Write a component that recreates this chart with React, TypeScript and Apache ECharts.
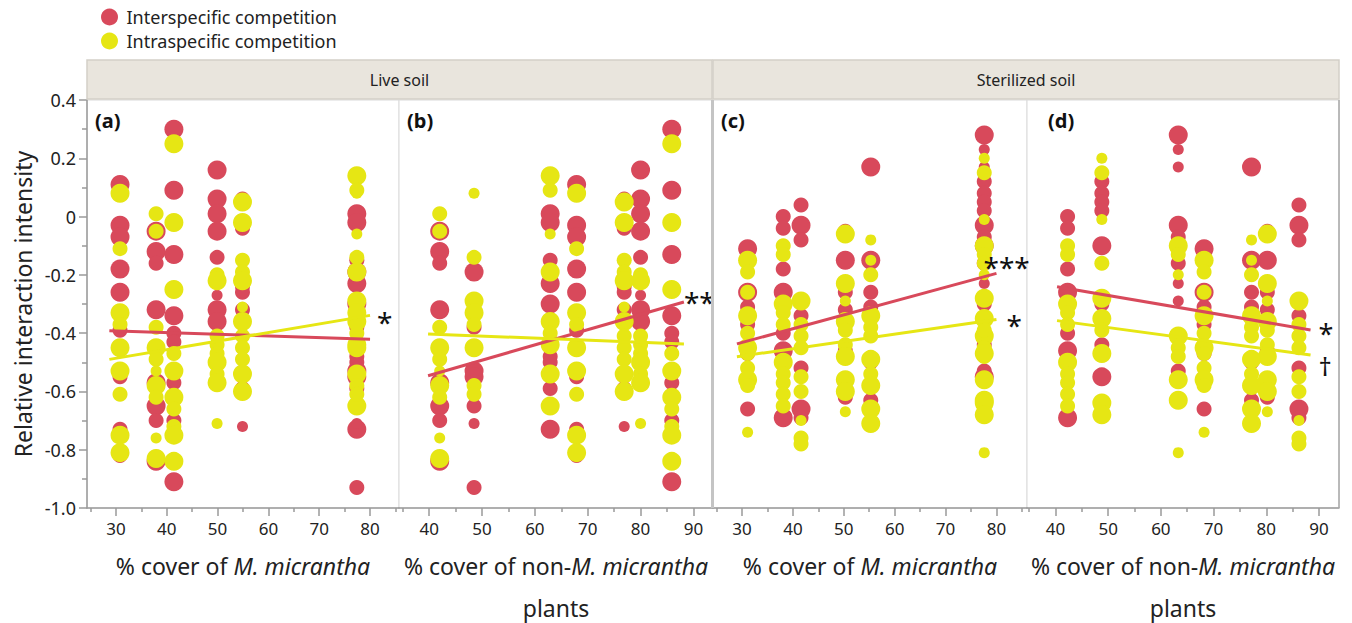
import React, { useEffect, useRef } from "react";
import * as echarts from "echarts";

// ---------- DATA ----------
const legendNames = ["Interspecific competition", "Intraspecific competition"];
const soilLabels = ["Live soil", "Sterilized soil"];
const panelLabels = ["(a)", "(b)", "(c)", "(d)"];
const yTickLabels = [0.4, 0.2, 0, -0.2, -0.4, -0.6, -0.8, -1.0];
const xTicksM = [30, 40, 50, 60, 70, 80];
const xTicksNonM = [40, 50, 60, 70, 80, 90];
const xMinorTicks = [25, 35, 45, 55, 65, 75, 85];
const xTitleM = "{t|% cover of }{i|M. micrantha}";
const xTitleNonM = "{t|% cover of non-}{i|M. micrantha}\n{t|plants}";
const yTitle = "Relative interaction intensity";

// plot groups: % cover of M. micrantha and % cover of non-M. micrantha plants
const liveMCover = [30.8, 37.9, 41.4, 49.9, 54.9, 77.4, 77.4];
const liveNonMCover = [67.9, 42.0, 85.9, 80.0, 76.9, 62.9, 48.5];
const sterMCover = [31.1, 38.1, 41.6, 50.3, 55.3, 77.6, 77.6];
const sterNonMCover = [68.2, 42.3, 86.2, 80.2, 77.2, 63.3, 48.8];

// [RII, weight class 1..3] per plot group
const liveInter = [
  [[0.11, 3], [-0.03, 3], [-0.07, 3], [-0.18, 3], [-0.26, 3], [-0.39, 2], [-0.55, 2], [-0.73, 2], [-0.82, 2]],
  [[-0.05, 3], [-0.12, 3], [-0.16, 2], [-0.32, 3], [-0.57, 3], [-0.65, 3], [-0.70, 2], [-0.84, 3]],
  [[0.30, 3], [0.09, 3], [-0.13, 3], [-0.34, 3], [-0.40, 2], [-0.43, 2], [-0.57, 2], [-0.70, 2], [-0.91, 3]],
  [[0.16, 3], [0.06, 3], [0.01, 3], [-0.05, 3], [-0.14, 2], [-0.27, 1], [-0.32, 3], [-0.36, 3]],
  [[0.06, 2], [-0.04, 2], [-0.24, 2], [-0.26, 2], [-0.32, 2], [-0.59, 2], [-0.72, 1]],
  [[0.01, 3], [-0.02, 3], [-0.15, 2], [-0.23, 3], [-0.30, 3], [-0.48, 2], [-0.50, 2], [-0.59, 2], [-0.73, 3]],
  [[-0.19, 3], [-0.38, 2], [-0.53, 3], [-0.55, 3], [-0.65, 2], [-0.71, 1], [-0.93, 2]],
];
const liveIntra = [
  [[0.08, 3], [-0.11, 2], [-0.33, 3], [-0.37, 2], [-0.45, 3], [-0.53, 3], [-0.61, 2], [-0.75, 3], [-0.81, 3]],
  [[0.01, 2], [-0.05, 2], [-0.38, 2], [-0.45, 3], [-0.49, 2], [-0.53, 1], [-0.58, 3], [-0.62, 2], [-0.76, 1], [-0.83, 3]],
  [[0.25, 3], [-0.02, 3], [-0.25, 3], [-0.47, 2], [-0.53, 3], [-0.62, 3], [-0.66, 2], [-0.72, 2], [-0.75, 3], [-0.84, 3]],
  [[-0.20, 2], [-0.22, 3], [-0.41, 2], [-0.44, 2], [-0.47, 2], [-0.50, 3], [-0.54, 2], [-0.57, 3], [-0.71, 1]],
  [[0.05, 3], [-0.02, 3], [-0.15, 2], [-0.19, 2], [-0.22, 3], [-0.31, 1], [-0.36, 3], [-0.41, 2], [-0.45, 2], [-0.49, 2], [-0.54, 3], [-0.60, 3]],
  [[0.14, 3], [0.09, 2], [-0.06, 1], [-0.19, 3], [-0.36, 3], [-0.40, 2], [-0.44, 3], [-0.54, 3], [-0.65, 3]],
  [[0.08, 1], [-0.14, 2], [-0.29, 3], [-0.33, 3], [-0.37, 2], [-0.45, 3], [-0.58, 2], [-0.61, 2]],
];
const sterInter = [
  [[-0.11, 3], [-0.14, 2], [-0.26, 3], [-0.31, 2], [-0.37, 2], [-0.47, 2], [-0.66, 2]],
  [[0.00, 2], [-0.04, 2], [-0.18, 2], [-0.26, 3], [-0.40, 2], [-0.46, 3], [-0.69, 3]],
  [[0.04, 2], [-0.03, 3], [-0.08, 2], [-0.34, 2], [-0.52, 2], [-0.66, 3], [-0.69, 2]],
  [[-0.05, 2], [-0.15, 3], [-0.26, 2], [-0.32, 2], [-0.46, 2], [-0.62, 2]],
  [[0.17, 3], [-0.15, 3], [-0.26, 2], [-0.31, 2], [-0.50, 2], [-0.63, 2]],
  [[0.28, 3], [0.23, 1], [0.17, 1], [-0.03, 3], [-0.07, 2], [-0.16, 2], [-0.23, 1], [-0.29, 1], [-0.53, 2]],
  [[0.12, 2], [0.08, 2], [0.05, 2], [0.02, 2], [-0.10, 3], [-0.30, 2], [-0.44, 2], [-0.55, 3]],
];
const sterIntra = [
  [[-0.15, 3], [-0.19, 2], [-0.26, 2], [-0.34, 3], [-0.40, 2], [-0.45, 3], [-0.47, 2], [-0.52, 2], [-0.56, 3], [-0.58, 2], [-0.74, 1]],
  [[-0.10, 2], [-0.13, 2], [-0.30, 3], [-0.33, 2], [-0.37, 2], [-0.50, 3], [-0.54, 2], [-0.57, 2], [-0.61, 2], [-0.65, 2]],
  [[-0.29, 3], [-0.37, 2], [-0.41, 2], [-0.45, 2], [-0.55, 2], [-0.60, 2], [-0.70, 1], [-0.76, 2], [-0.78, 2]],
  [[-0.06, 3], [-0.23, 3], [-0.29, 1], [-0.36, 3], [-0.39, 2], [-0.44, 2], [-0.48, 3], [-0.56, 3], [-0.60, 3], [-0.67, 1]],
  [[-0.08, 1], [-0.15, 1], [-0.20, 2], [-0.34, 3], [-0.38, 2], [-0.41, 2], [-0.49, 3], [-0.54, 2], [-0.58, 3], [-0.66, 3], [-0.71, 3]],
  [[-0.10, 3], [-0.13, 2], [-0.20, 1], [-0.41, 3], [-0.45, 2], [-0.48, 2], [-0.56, 3], [-0.63, 3], [-0.81, 1]],
  [[0.20, 1], [0.15, 2], [-0.01, 1], [-0.16, 2], [-0.28, 3], [-0.35, 3], [-0.39, 2], [-0.47, 3], [-0.64, 3], [-0.68, 3]],
];

// fitted regression lines [x, RII] end points
const fitAInter = [[28.7, -0.392], [80, -0.421]];
const fitAIntra = [[28.7, -0.49], [80, -0.339]];
const fitBInter = [[39.8, -0.546], [88.2, -0.293]];
const fitBIntra = [[39.8, -0.403], [88.2, -0.437]];
const fitCInter = [[29.0, -0.437], [80, -0.195]];
const fitCIntra = [[29.0, -0.481], [80, -0.353]];
const fitDInter = [[40.3, -0.241], [88.4, -0.389]];
const fitDIntra = [[40.3, -0.357], [88.4, -0.475]];

// significance marks [inter, intra]
const sigA = ["", "*"];
const sigB = ["**", ""];
const sigC = ["***", "*"];
const sigD = ["*", "†"];

// ---------- STYLE / LAYOUT ----------
const RED = "#d8495b";
const YELLOW = "#e6e614";
const FONT = "'Noto Sans', 'Open Sans', sans-serif";
const SIZE_BY_CLASS: Record<number, number> = { 1: 11, 2: 15, 3: 19 };
const GRID_LEFT = [87, 399, 713, 1027];
const GRID_WIDTH = [312, 314, 314, 312];
const GRID_TOP = 100;
const GRID_HEIGHT = 408;

// stackSig: the two marks sit stacked at the end of the first line
const panels = [
  { xs: liveMCover, inter: liveInter, intra: liveIntra, range: [24.3, 85.7], ticks: xTicksM, title: xTitleM, fit: [fitAInter, fitAIntra], sig: sigA,
    sigOffset: [[8, 8], [7, 7]], stackSig: false },
  { xs: liveNonMCover, inter: liveInter, intra: liveIntra, range: [34.3, 93.7], ticks: xTicksNonM, title: xTitleNonM, fit: [fitBInter, fitBIntra], sig: sigB,
    sigOffset: [[0, 0], [0, 0]], stackSig: false },
  { xs: sterMCover, inter: sterInter, intra: sterIntra, range: [24.3, 86.0], ticks: xTicksM, title: xTitleM, fit: [fitCInter, fitCIntra], sig: sigC,
    sigOffset: [[-13, -6], [10, 6]], stackSig: false },
  { xs: sterNonMCover, inter: sterInter, intra: sterIntra, range: [34.6, 93.8], ticks: xTicksNonM, title: xTitleNonM, fit: [fitDInter, fitDIntra], sig: sigD,
    sigOffset: [[8, 20], [0, 0]], stackSig: true },
];

function toPoints(xs: number[], groups: number[][][]) {
  const out: number[][] = [];
  groups.forEach((g, gi) => g.forEach(([y, w]) => out.push([xs[gi], y, w])));
  return out;
}

function buildOption() {
  const grids: any[] = [];
  const xAxes: any[] = [];
  const yAxes: any[] = [];
  const series: any[] = [];
  const axisGray = "#9a9a9a";

  panels.forEach((p, i) => {
    grids.push({
      left: GRID_LEFT[i], top: GRID_TOP, width: GRID_WIDTH[i], height: GRID_HEIGHT,
      outerBoundsMode: "none", containLabel: false,
      show: true, backgroundColor: "#ffffff", borderColor: "#dadada", borderWidth: 1,
    });
    xAxes.push({
      type: "value", gridIndex: i, min: p.range[0], max: p.range[1], position: "bottom",
      axisLine: { show: true, onZero: false, lineStyle: { color: axisGray, width: 1.5 } },
      axisTick: { show: true, customValues: p.ticks, length: 8, lineStyle: { color: axisGray, width: 1.5 } },
      axisLabel: { show: true, customValues: p.ticks, fontSize: 17, color: "#222", margin: 12, fontFamily: FONT },
      splitLine: { show: false },
      name: p.title, nameLocation: "middle", nameGap: 37,
      nameTextStyle: {
        fontSize: 23, color: "#222", fontFamily: FONT, lineHeight: 42,
        rich: {
          t: { fontSize: 23, color: "#222", fontFamily: FONT, lineHeight: 42 },
          i: { fontStyle: "italic", fontSize: 23, color: "#222", fontFamily: FONT, lineHeight: 42 },
        },
      },
    });
    xAxes.push({
      type: "value", gridIndex: i, min: p.range[0], max: p.range[1], position: "bottom",
      axisLine: { show: false, onZero: false },
      axisTick: { show: true, customValues: xMinorTicks.filter((v) => v > p.range[0] && v < p.range[1]), length: 4, lineStyle: { color: axisGray, width: 1.5 } },
      axisLabel: { show: false },
      splitLine: { show: false },
    });
    yAxes.push({
      type: "value", gridIndex: i, min: -1.0, max: 0.4, interval: 0.2,
      show: i === 0,
      axisLine: { show: true, onZero: false, lineStyle: { color: axisGray, width: 1.5 } },
      axisTick: { show: true, length: 8, lineStyle: { color: axisGray, width: 1.5 } },
      minorTick: { show: true, splitNumber: 2, length: 5, lineStyle: { color: axisGray, width: 1.5 } },
      splitLine: { show: false },
      minorSplitLine: { show: false },
      axisLabel: {
        fontSize: 18, color: "#222", margin: 11, fontFamily: FONT,
        formatter: (v: number) => {
          const hit = yTickLabels.find((t) => Math.abs(t - v) < 1e-6);
          if (hit === undefined) return "";
          return Math.abs(hit) < 1e-9 ? "0" : hit.toFixed(1);
        },
      },
      name: i === 0 ? yTitle : "", nameLocation: "middle", nameGap: 53,
      nameTextStyle: { fontSize: 23, color: "#222", fontFamily: FONT },
    });

    const xi = i * 2;
    series.push({
      type: "scatter", name: legendNames[0], xAxisIndex: xi, yAxisIndex: i, z: 2,
      data: toPoints(p.xs, p.inter),
      symbolSize: (v: number[]) => SIZE_BY_CLASS[v[2]],
      itemStyle: { color: RED, opacity: 1 },
    });
    series.push({
      type: "scatter", name: legendNames[1], xAxisIndex: xi, yAxisIndex: i, z: 3,
      data: toPoints(p.xs, p.intra),
      symbolSize: (v: number[]) => SIZE_BY_CLASS[v[2]],
      itemStyle: { color: YELLOW, opacity: 1 },
    });
    [RED, YELLOW].forEach((c, k) => {
      let text = p.sig[k];
      if (p.stackSig) text = k === 0 ? "{s|" + p.sig[0] + "}\n{d|" + p.sig[1] + "}" : "";
      series.push({
        type: "line", name: "fit" + i + "_" + k, xAxisIndex: xi, yAxisIndex: i, z: 5,
        data: p.fit[k], showSymbol: false, symbol: "none", silent: true,
        lineStyle: { color: c, width: 3 },
        endLabel: {
          show: text !== "", formatter: () => text, distance: 0,
          offset: p.sigOffset[k], fontSize: 28, lineHeight: 20, color: "#111", fontFamily: FONT,
          rich: {
            s: { fontSize: 27, lineHeight: 32, color: "#111", fontFamily: FONT },
            d: { fontSize: 26, lineHeight: 32, color: "#111", fontFamily: FONT },
          },
        },
      });
    });
  });

  const graphics: any[] = [];
  const stripSpans = [
    [GRID_LEFT[0], GRID_LEFT[2] - 1],
    [GRID_LEFT[2], GRID_LEFT[3] + GRID_WIDTH[3]],
  ];
  stripSpans.forEach(([x0, x1], k) => {
    graphics.push({
      type: "rect", shape: { x: x0, y: 60, width: x1 - x0, height: 39 },
      style: { fill: "#e9e5dd", stroke: "#d3cfc7", lineWidth: 1.5 }, z: 10,
    });
    graphics.push({
      type: "text", x: (x0 + x1) / 2, y: 80, z: 11,
      style: { text: soilLabels[k], fontSize: 16, fill: "#222", align: "center", verticalAlign: "middle", fontFamily: FONT },
    });
  });
  graphics.push({
    type: "line", shape: { x1: GRID_LEFT[2] - 0.5, y1: GRID_TOP, x2: GRID_LEFT[2] - 0.5, y2: GRID_TOP + GRID_HEIGHT },
    style: { stroke: "#c4c4c4", lineWidth: 3 }, z: 10,
  });
  const rightEdge = GRID_LEFT[3] + GRID_WIDTH[3];
  graphics.push({
    type: "line", shape: { x1: rightEdge, y1: GRID_TOP, x2: rightEdge, y2: GRID_TOP + GRID_HEIGHT },
    style: { stroke: "#a8a8a8", lineWidth: 1.5 }, z: 10,
  });
  panelLabels.forEach((t, i) => {
    graphics.push({
      type: "text", x: GRID_LEFT[i] + 8 + (i === 3 ? 13 : 0), y: GRID_TOP + 20, z: 12,
      style: { text: t, fontSize: 20, fontWeight: "bold", fill: "#111", verticalAlign: "middle", fontFamily: FONT },
    });
  });

  return {
    animation: false,
    backgroundColor: "#ffffff",
    textStyle: { fontFamily: FONT },
    legend: {
      data: legendNames.map((n) => ({ name: n, icon: "circle" })),
      orient: "vertical", left: 96, top: 3,
      itemWidth: 24, itemHeight: 17, itemGap: 6,
      selectedMode: false,
      textStyle: { fontSize: 18, lineHeight: 17, color: "#222", fontFamily: FONT },
    },
    grid: grids,
    xAxis: xAxes,
    yAxis: yAxes,
    series,
    graphic: graphics,
  };
}

export default function App() {
  const ref = useRef<HTMLDivElement>(null);
  useEffect(() => {
    document.body.style.margin = "0";
    if (!ref.current) return;
    const chart = echarts.init(ref.current, undefined, { renderer: "svg" });
    chart.setOption(buildOption() as any);
    return () => chart.dispose();
  }, []);
  return <div ref={ref} style={{ width: 1352, height: 623 }} />;
}
